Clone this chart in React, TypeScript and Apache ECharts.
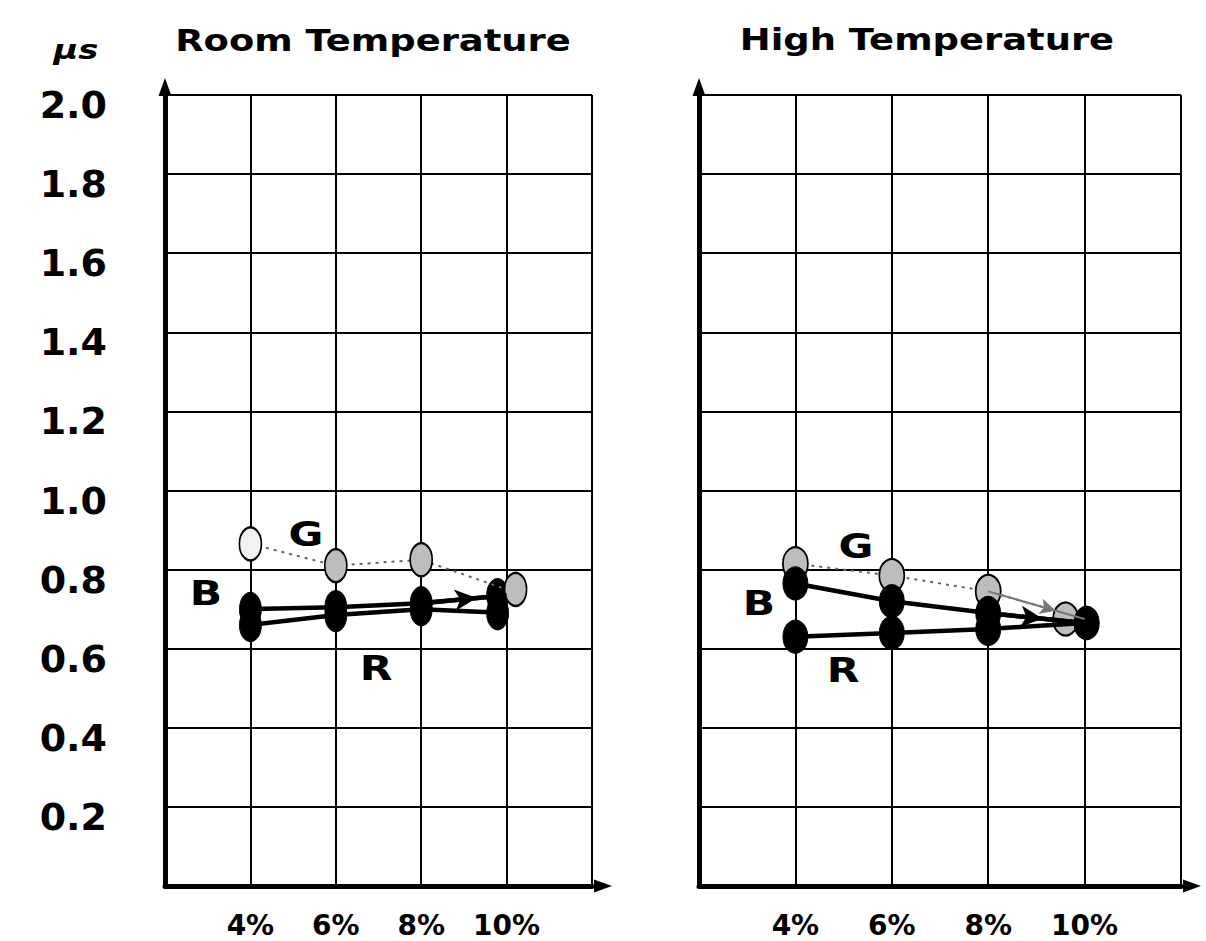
import React, { useEffect, useRef } from 'react';
import * as echarts from 'echarts';

// ---- data ----
const xValues = [4, 6, 8, 10];
const xTickLabels = ['4%', '6%', '8%', '10%'];
const yTickValues = [0.2, 0.4, 0.6, 0.8, 1.0, 1.2, 1.4, 1.6, 1.8, 2.0];
const yTickLabels = ['0.2', '0.4', '0.6', '0.8', '1.0', '1.2', '1.4', '1.6', '1.8', '2.0'];
const panelTitles = ['Room Temperature', 'High Temperature'];
const seriesNames = ['G', 'B', 'R'];
const unitLabel = 'μs';

const roomG = [0.865, 0.81, 0.825, 0.75];
const roomB = [0.70, 0.705, 0.715, 0.735];
const roomR = [0.66, 0.685, 0.70, 0.69];

const highG = [0.815, 0.785, 0.745, 0.675];
const highB = [0.765, 0.72, 0.69, 0.665];
const highR = [0.63, 0.64, 0.65, 0.665];

const FONT = 'DejaVu Sans';

function App() {
  const ref = useRef<HTMLDivElement>(null);

  useEffect(() => {
    if (!ref.current) return;
    const chart = echarts.init(ref.current, undefined, { renderer: 'svg' });

    const grids = [
      { left: 165, top: 95, width: 427, height: 791 },
      { left: 699, top: 95, width: 482, height: 791 },
    ];

    const xAxis = grids.map((_, gi) => ({
      type: 'value',
      gridIndex: gi,
      min: 2,
      max: 12,
      interval: 2,
      axisLine: {
        show: true,
        onZero: false,
        symbol: ['none', 'triangle'],
        symbolSize: [13, 18],
        symbolOffset: [0, 11],
        lineStyle: { color: '#000', width: 5 },
      },
      axisTick: { show: false },
      splitLine: { show: true, lineStyle: { color: '#000', width: 2 } },
      axisLabel: {
        margin: 27,
        fontFamily: FONT,
        fontWeight: 'bold',
        fontSize: 28,
        lineHeight: 24,
        verticalAlign: 'top',
        color: '#000',
        formatter: (v: number) => {
          const i = xValues.indexOf(v);
          return i >= 0 ? xTickLabels[i] : '';
        },
      },
    }));

    const yAxis = grids.map((_, gi) => ({
      type: 'value',
      gridIndex: gi,
      min: 0,
      max: 2,
      interval: 0.2,
      axisLine: {
        show: true,
        onZero: false,
        symbol: ['none', 'triangle'],
        symbolSize: [13, 18],
        symbolOffset: [0, 8],
        lineStyle: { color: '#000', width: 5 },
      },
      axisTick: { show: false },
      splitLine: { show: true, lineStyle: { color: '#000', width: 2 } },
      axisLabel: {
        show: gi === 0,
        margin: 58,
        fontFamily: FONT,
        fontWeight: 'bold',
        fontSize: 38,
        lineHeight: 20,
        verticalAlign: 'top',
        color: '#000',
        formatter: (v: number) => {
          const i = yTickValues.findIndex((t) => Math.abs(t - v) < 1e-6);
          return i >= 0 ? yTickLabels[i] : '';
        },
      },
    }));

    const panels = [
      { G: roomG, B: roomB, R: roomR, size: [22, 33], gOff: [0, 0, 0, 9], bOff: [0, 0, 0, -9], arrowB: 30, arrowG: 0, lightFirstG: true },
      { G: highG, B: highB, R: highR, size: [25, 33], gOff: [0, 0, 0, -19], bOff: [0, 0, 0, 2], arrowB: 42, arrowG: 30, lightFirstG: false },
    ];

    const series: any[] = [];
    panels.forEach((p, gi) => {
      const mk = (vals: number[], offs: number[], light?: boolean) =>
        xValues.map((x, j) => {
          const item: any = { value: [x, vals[j]], symbolOffset: [offs[j], 0] };
          if (light && j === 0) item.itemStyle = { color: '#f2f2f2' };
          return item;
        });
      const arrowLine = (vals: number[], color: string, width: number, off: number, size: number[]) => ({
        silent: true,
        symbol: ['none', 'arrow'],
        symbolSize: size,
        symbolOffset: [0, [0, off]],
        label: { show: false },
        emphasis: { disabled: true },
        lineStyle: { color, width, type: 'solid', opacity: 1 },
        data: [[{ coord: [xValues[2], vals[2]] }, { coord: [xValues[3], vals[3]] }]],
      });

      // G (grey, dotted)
      const gSeries: any = {
        name: seriesNames[0],
        type: 'line',
        xAxisIndex: gi,
        yAxisIndex: gi,
        data: mk(p.G, p.gOff, p.lightFirstG),
        symbol: 'circle',
        symbolSize: p.size,
        showAllSymbol: true,
        itemStyle: { color: '#bdbdbd', borderColor: '#000', borderWidth: 2 },
        lineStyle: { color: '#666', width: 2, type: [3, 5] },
        z: gi === 0 ? 4 : 2,
      };
      if (p.arrowG) gSeries.markLine = arrowLine(p.G, '#777', 2, p.arrowG, [12, 16]);
      series.push(gSeries);

      // B (black)
      series.push({
        name: seriesNames[1],
        type: 'line',
        xAxisIndex: gi,
        yAxisIndex: gi,
        data: mk(p.B, p.bOff),
        symbol: 'circle',
        symbolSize: p.size,
        showAllSymbol: true,
        itemStyle: { color: '#000', borderColor: '#000', borderWidth: 1 },
        lineStyle: { color: '#000', width: 4.5 },
        z: 3,
        markLine: arrowLine(p.B, '#000', 4.5, p.arrowB, [16, 22]),
      });

      // R (black)
      series.push({
        name: seriesNames[2],
        type: 'line',
        xAxisIndex: gi,
        yAxisIndex: gi,
        data: mk(p.R, p.bOff),
        symbol: 'circle',
        symbolSize: p.size,
        showAllSymbol: true,
        itemStyle: { color: '#000', borderColor: '#000', borderWidth: 1 },
        lineStyle: { color: '#000', width: 4.5 },
        z: 3,
      });
    });

    const txt = (text: string, x: number, y: number, size: number, scaleX: number, italic = false) => ({
      type: 'text',
      x,
      y,
      scaleX,
      silent: true,
      style: {
        text,
        fontFamily: FONT,
        fontWeight: 'bold',
        fontStyle: italic ? 'italic' : 'normal',
        fontSize: size,
        fill: '#000',
        align: 'center',
        verticalAlign: 'middle',
      },
    });

    const graphic = [
      txt(panelTitles[0], 373, 41, 30, 1.23),
      txt(panelTitles[1], 927, 40, 30, 1.23),
      txt(unitLabel, 76, 50, 26, 1.3, true),
      txt(seriesNames[0], 306, 534, 34, 1.25),
      txt(seriesNames[1], 206, 593, 34, 1.25),
      txt(seriesNames[2], 376, 668, 34, 1.25),
      txt(seriesNames[0], 856, 546, 34, 1.25),
      txt(seriesNames[1], 759, 603, 34, 1.25),
      txt(seriesNames[2], 843, 670, 34, 1.25),
    ];

    chart.setOption({
      animation: false,
      backgroundColor: '#fff',
      grid: grids,
      xAxis,
      yAxis,
      series,
      graphic,
    } as any);

    return () => chart.dispose();
  }, []);

  return (
    <div
      ref={ref}
      style={{ position: 'fixed', left: 0, top: 0, width: '1206px', height: '941px', background: '#fff' }}
    />
  );
}

export default App;
